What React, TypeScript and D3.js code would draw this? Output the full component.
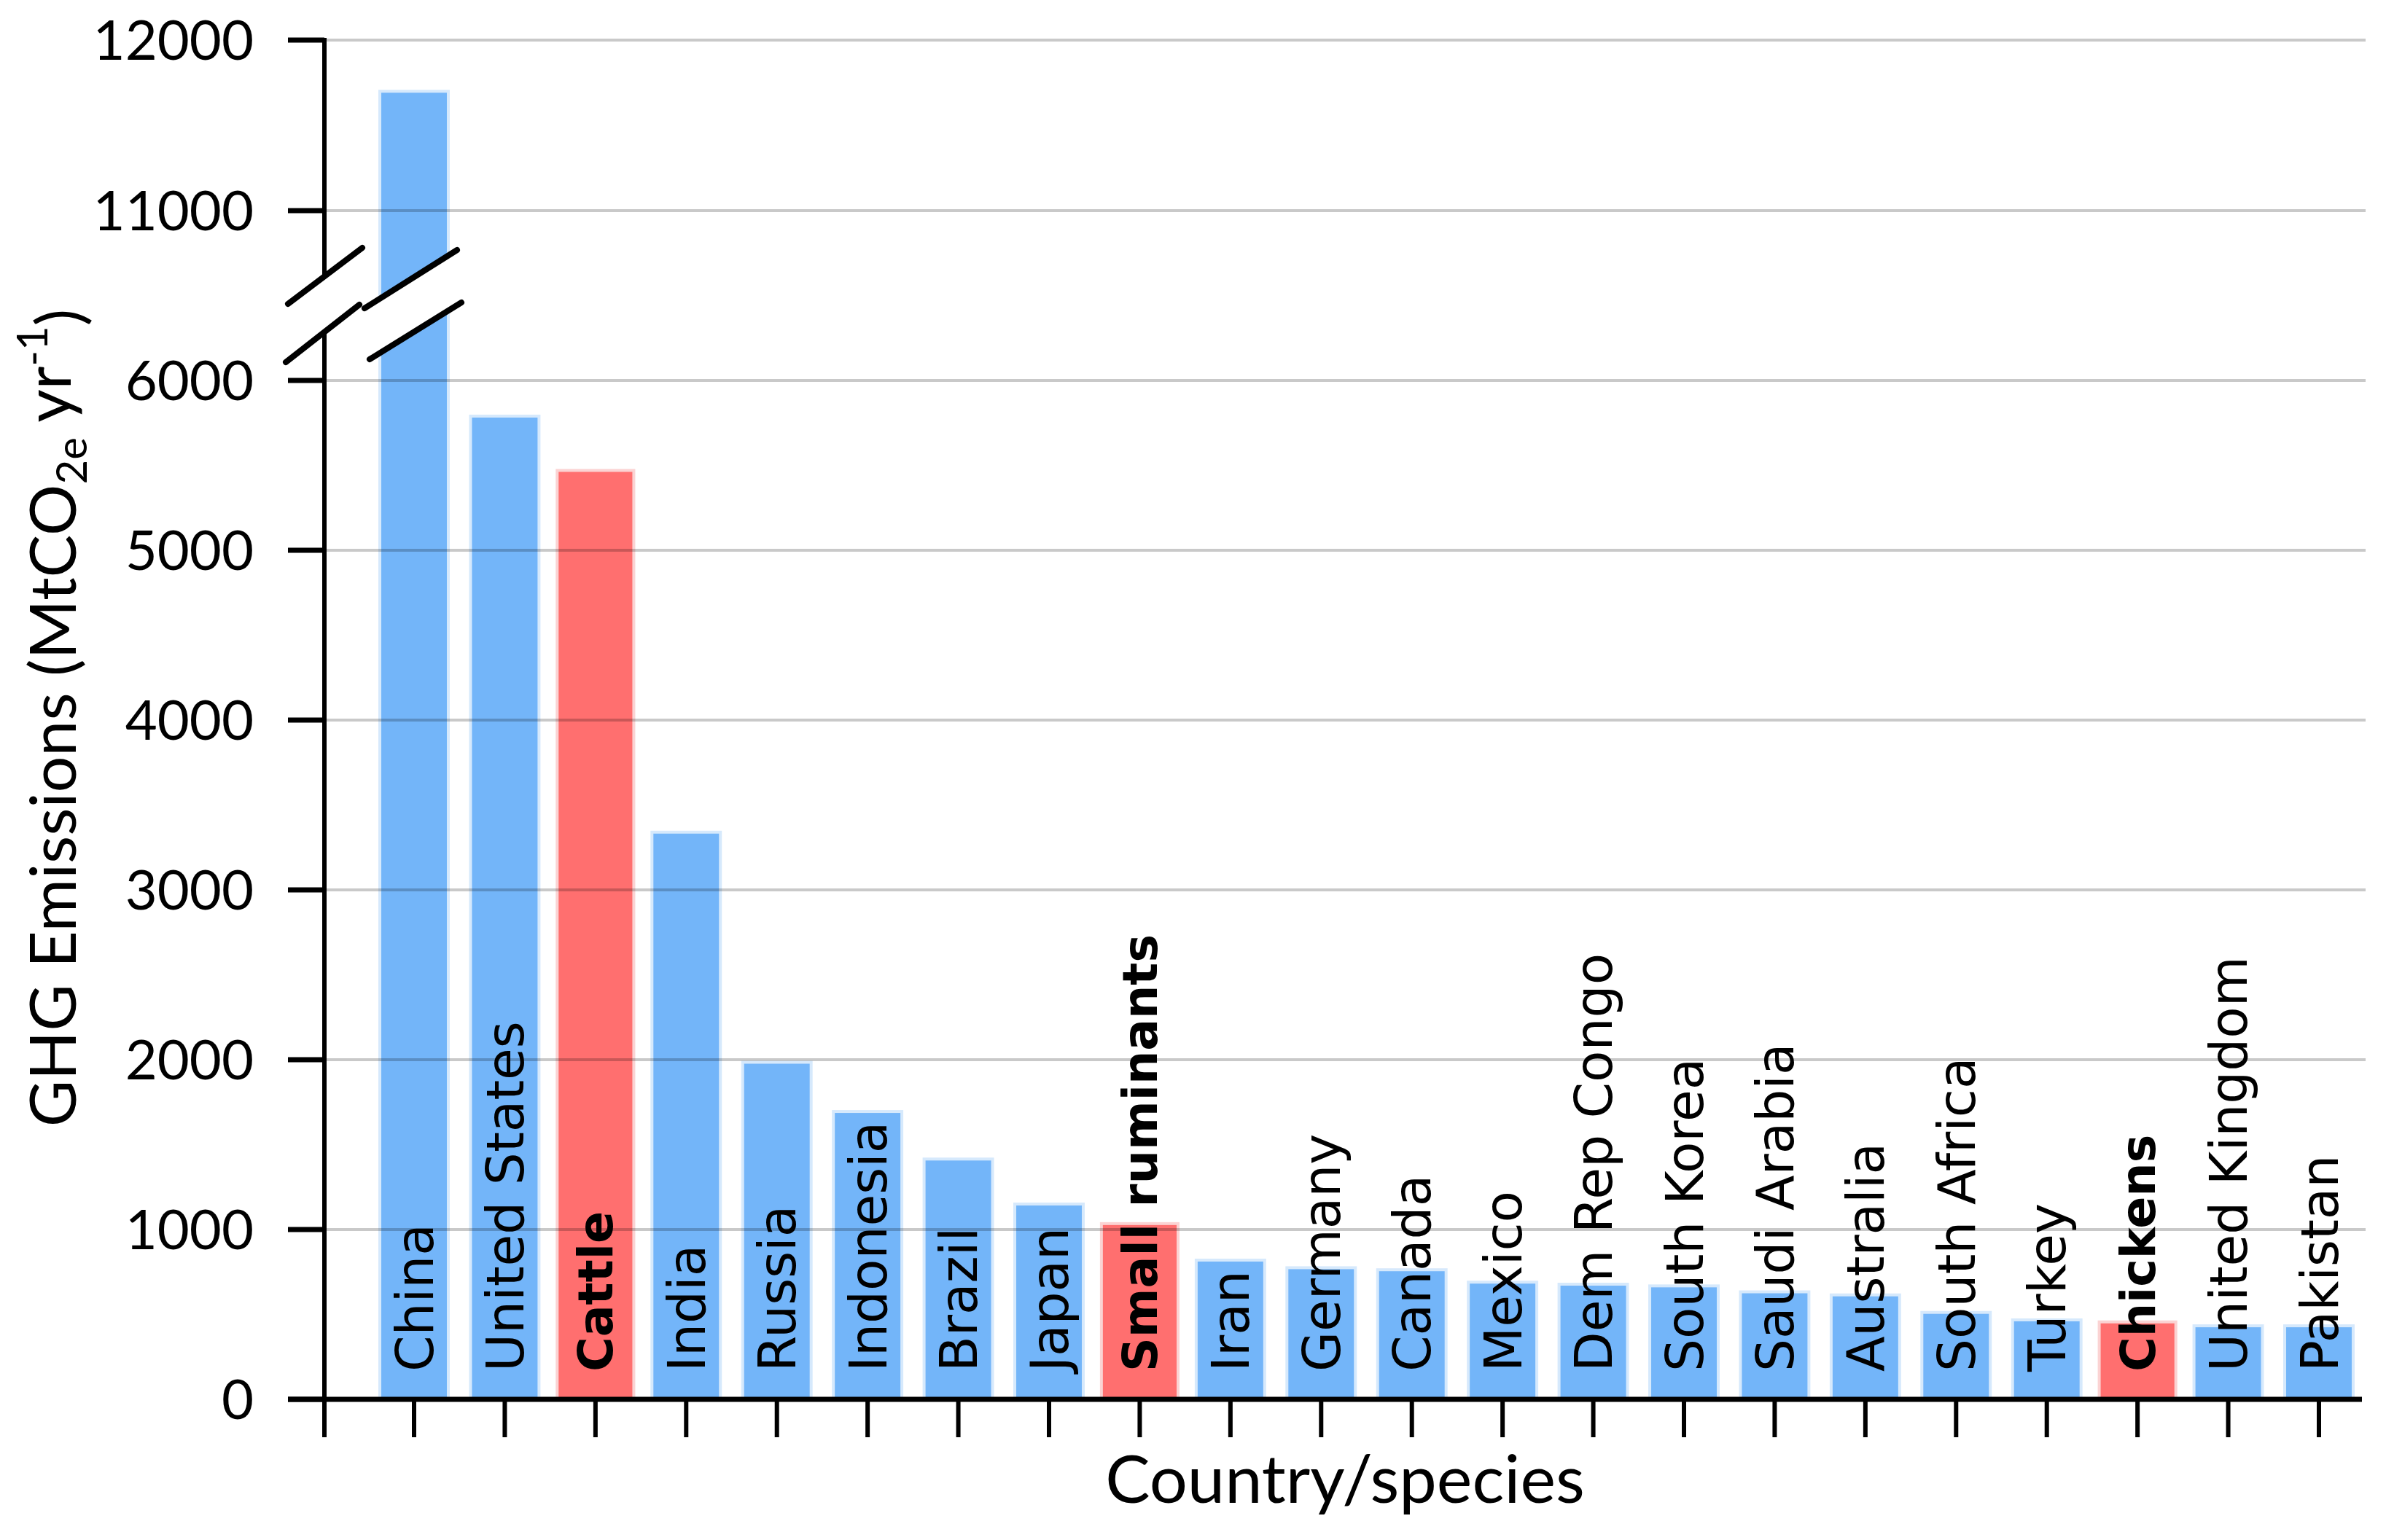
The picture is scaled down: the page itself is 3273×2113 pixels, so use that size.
import React from "react";
import * as d3 from "d3";

const categories = [
  "China", "United States", "Cattle", "India", "Russia", "Indonesia", "Brazil", "Japan",
  "Small ruminants", "Iran", "Germany", "Canada", "Mexico", "Dem Rep Congo", "South Korea",
  "Saudi Arabia", "Australia", "South Africa", "Turkey", "Chickens", "United Kingdom", "Pakistan",
];
const values = [
  11700, 5790, 5470, 3340, 1985, 1695, 1415, 1150, 1035, 820, 775, 763, 690, 678, 668, 633, 615,
  512, 468, 456, 433, 433,
];
const speciesCategories = ["Cattle", "Small ruminants", "Chickens"];
const yTicks = [0, 1000, 2000, 3000, 4000, 5000, 6000, 11000, 12000];

const W = 3273;
const H = 2113;
const AXIS_X = 445;
const BASE_Y = 1920;

export default function App() {
  const x = d3.scalePoint<string>().domain(categories).range([568, 3181]);
  const y = d3.scaleLinear().domain([0, 6000, 11000, 12000]).range([BASE_Y, 522, 289, 55]);
  const step = x.step();
  const blueW = step * 0.755;
  const redW = step * 0.845;

  const y6 = y(6000);
  // axis break decoration geometry (relative to 6000 line)
  const luA = [AXIS_X - 50, y6 - 105], luB = [AXIS_X + 52, y6 - 182];
  const llA = [AXIS_X - 53, y6 - 25], llB = [AXIS_X + 48, y6 - 104];
  const chinaX = x("China")!;
  const ruA = [chinaX - 68, y6 - 99], ruB = [chinaX + 59, y6 - 179];
  const rlA = [chinaX - 61, y6 - 29], rlB = [chinaX + 65, y6 - 107];
  const slope = (a: number[], b: number[]) => (b[1] - a[1]) / (b[0] - a[0]);
  const yAt = (a: number[], b: number[], xx: number) => a[1] + slope(a, b) * (xx - a[0]);
  const gx0 = chinaX - 58, gx1 = chinaX + 62;
  const gapPoly = [
    [gx0, yAt(ruA, ruB, gx0)],
    [gx1, yAt(ruA, ruB, gx1)],
    [gx1, yAt(rlA, rlB, gx1)],
    [gx0, yAt(rlA, rlB, gx0)],
  ];
  const axisUpperEnd = yAt(luA, luB, AXIS_X);
  const axisLowerStart = yAt(llA, llB, AXIS_X);

  const labelFont = "'DejaVu Sans', Verdana, sans-serif";
  const axisFont = "Lato, 'Open Sans', sans-serif";

  return (
    <svg width={W} height={H} style={{ position: "absolute", left: 0, top: 0, background: "#fff" }}>
      <rect x={0} y={0} width={W} height={H} fill="#fff" />
      {/* bars */}
      {categories.map((c, i) => {
        const sp = speciesCategories.includes(c);
        const w = sp ? redW : blueW;
        return (
          <rect
            key={c}
            x={x(c)! - w / 2}
            y={y(values[i])}
            width={w}
            height={BASE_Y - y(values[i])}
            fill={sp ? "#ff6f6f" : "#73b5f9"}
            stroke={sp ? "#fbd3d3" : "#d6e9fc"}
            strokeWidth={4}
          />
        );
      })}
      {/* break gap in China bar */}
      <polygon points={gapPoly.map((p) => p.join(",")).join(" ")} fill="#fff" />
      {/* gridlines */}
      {yTicks.filter((t) => t !== 0).map((t) => (
        <line key={t} x1={AXIS_X} x2={3245} y1={y(t)} y2={y(t)} stroke="rgba(0,0,0,0.21)" strokeWidth={4} />
      ))}
      {/* bar labels */}
      {categories.map((c) => {
        const sp = speciesCategories.includes(c);
        const cx = x(c)!;
        const sy = BASE_Y - 38;
        return (
          <text
            key={c}
            transform={`translate(${cx},${sy}) rotate(-90)`}
            dy="0.36em"
            fontFamily={labelFont}
            fontSize={sp ? 65 : 71}
            fontWeight={sp ? "bold" : "normal"}
            fill="#000"
          >
            {c}
          </text>
        );
      })}
      {/* y axis */}
      <line x1={AXIS_X} x2={AXIS_X} y1={52} y2={axisUpperEnd} stroke="#000" strokeWidth={6} />
      <line x1={AXIS_X} x2={AXIS_X} y1={axisLowerStart} y2={BASE_Y + 52} stroke="#000" strokeWidth={6} />
      {yTicks.map((t) => (
        <g key={t}>
          <line x1={AXIS_X - 50} x2={AXIS_X} y1={y(t)} y2={y(t)} stroke="#000" strokeWidth={7} />
          <text
            x={348}
            y={y(t)}
            dy="0.36em"
            textAnchor="end"
            fontFamily={axisFont}
            fontSize={76}
            fill="#000"
          >
            {t}
          </text>
        </g>
      ))}
      {/* x axis */}
      <line x1={AXIS_X - 50} x2={3240} y1={BASE_Y} y2={BASE_Y} stroke="#000" strokeWidth={7} />
      {categories.map((c) => (
        <line key={c} x1={x(c)!} x2={x(c)!} y1={BASE_Y} y2={BASE_Y + 52} stroke="#000" strokeWidth={6} />
      ))}
      {/* break slashes */}
      {[[luA, luB], [llA, llB], [ruA, ruB], [rlA, rlB]].map(([a, b], i) => (
        <line key={i} x1={a[0]} y1={a[1]} x2={b[0]} y2={b[1]} stroke="#000" strokeWidth={8} strokeLinecap="round" />
      ))}
      {/* axis titles */}
      <text x={1845} y={2062} textAnchor="middle" fontFamily={axisFont} fontSize={92} fill="#000">
        Country/species
      </text>
      <text
        transform={`translate(104,985) rotate(-90)`}
        textAnchor="middle"
        fontFamily={axisFont}
        fontSize={88}
        fill="#000"
      >
        GHG Emissions (MtCO
        <tspan fontSize={58} dy="0.25em">2e</tspan>
        <tspan dy="-0.25em"> yr</tspan>
        <tspan fontSize={58} dy="-0.55em">-1</tspan>
        <tspan dy="0.55em">)</tspan>
      </text>
    </svg>
  );
}
